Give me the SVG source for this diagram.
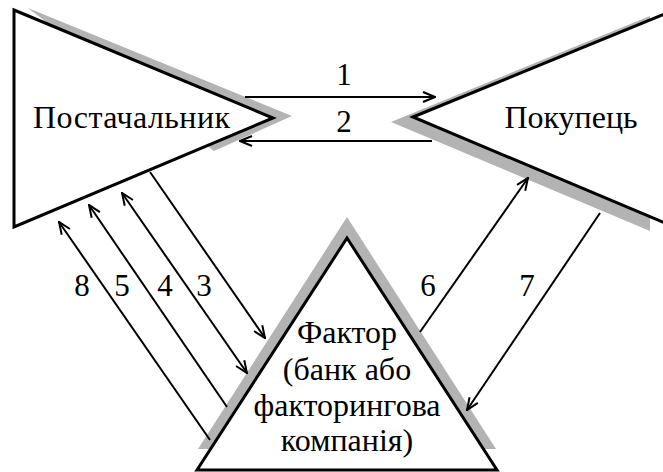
<svg xmlns="http://www.w3.org/2000/svg" width="663" height="472" viewBox="0 0 663 472">
<style>
.shadow{fill:#b3b3b3;stroke:none}
.shape{fill:#ffffff;stroke:#000000;stroke-width:3;stroke-linejoin:miter}
.lbl{font-family:"Liberation Serif","Times New Roman",serif;font-size:32px;fill:#000000}
.num{font-family:"Liberation Serif","Times New Roman",serif;font-size:31px;fill:#000000;text-anchor:middle}
.conn{fill:none;stroke:#000000;stroke-width:2}
</style>
<defs>
<marker id="ah" viewBox="0 0 14 12" refX="13" refY="6" markerWidth="14" markerHeight="12" markerUnits="userSpaceOnUse" orient="auto-start-reverse">
<path d="M1,1 L13,6 L1,11" fill="none" stroke="#000000" stroke-width="2"/>
</marker>
</defs>
<rect width="663" height="472" fill="#ffffff"/>

<g id="supplier">
<polygon class="shadow" points="28,8 292,116 214,151"/>
<polygon class="shape" points="14,10 273,118 14,227"/>
<text class="lbl" x="33" y="128" textLength="197" lengthAdjust="spacing">Постачальник</text>
</g>

<g id="buyer">
<polygon class="shadow" points="391,122 650,16 650,231"/>
<polygon class="shape" points="413,117 672,11 672,226"/>
<text class="lbl" x="571" y="128" text-anchor="middle">Покупець</text>
</g>

<g id="factor">
<polygon class="shadow" points="347,217 496,449 198,449"/>
<polygon class="shape" points="347,238 497,470 197,470"/>
<text class="lbl" x="347" text-anchor="middle"><tspan x="347" y="343">Фактор</tspan><tspan x="347" y="380">(банк або</tspan><tspan x="347" y="416">факторингова</tspan><tspan x="347" y="451">компанія)</tspan></text>
</g>

<g id="connectors">
<line class="conn" x1="245" y1="97" x2="435" y2="97" marker-end="url(#ah)"/>
<line class="conn" x1="432" y1="141" x2="240" y2="141" marker-end="url(#ah)"/>
<line class="conn" x1="150" y1="172" x2="265" y2="338" marker-end="url(#ah)"/>
<line class="conn" x1="122" y1="193" x2="247" y2="373" marker-start="url(#ah)" marker-end="url(#ah)"/>
<line class="conn" x1="227" y1="407" x2="89" y2="205" marker-end="url(#ah)"/>
<line class="conn" x1="210" y1="440" x2="59" y2="222" marker-end="url(#ah)"/>
<line class="conn" x1="420" y1="332" x2="528" y2="178" marker-end="url(#ah)"/>
<line class="conn" x1="600" y1="213" x2="467" y2="410" marker-end="url(#ah)"/>
</g>

<g id="labels">
<text class="num" x="344" y="85">1</text>
<text class="num" x="344" y="132">2</text>
<text class="num" x="204" y="296">3</text>
<text class="num" x="165" y="296">4</text>
<text class="num" x="122" y="296">5</text>
<text class="num" x="428" y="296">6</text>
<text class="num" x="527" y="296">7</text>
<text class="num" x="82" y="296">8</text>
</g>
</svg>
